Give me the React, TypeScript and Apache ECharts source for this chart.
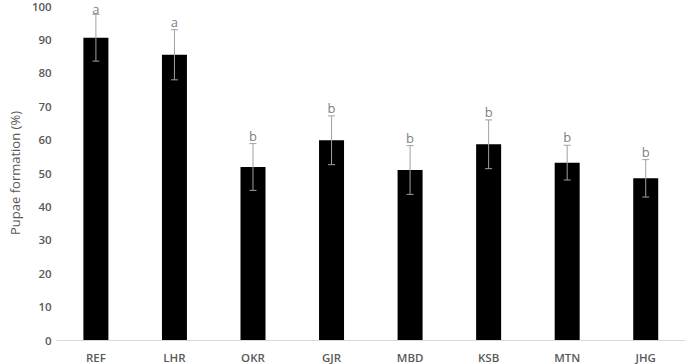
import React, { useEffect, useRef } from "react";
import * as echarts from "echarts";

const categories = ["REF", "LHR", "OKR", "GJR", "MBD", "KSB", "MTN", "JHG"];
const means = [90.5, 85.4, 51.8, 59.8, 50.9, 58.6, 53.1, 48.4];
const errors = [7.0, 7.5, 7.0, 7.3, 7.3, 7.3, 5.2, 5.6];
const letters = ["a", "a", "b", "b", "b", "b", "b", "b"];
const yTicks = { min: 0, max: 100, interval: 10 };

export default function App() {
  const ref = useRef<HTMLDivElement>(null);
  useEffect(() => {
    if (!ref.current) return;
    const chart = echarts.init(ref.current, undefined, { renderer: "svg" });
    const errData = categories.map((c, i) => [i, means[i] - errors[i], means[i] + errors[i]]);
    chart.setOption({
      animation: false,
      grid: { left: 45, right: 2, top: 6, bottom: 24 },
      xAxis: {
        type: "category",
        data: categories,
        axisLine: { lineStyle: { color: "#d9d9d9" } },
        axisTick: { show: false },
        axisLabel: { color: "#595959", fontFamily: "Open Sans", fontWeight: 600, fontSize: 11.5, margin: 11 },
      },
      yAxis: {
        type: "value",
        min: yTicks.min,
        max: yTicks.max,
        interval: yTicks.interval,
        name: "Pupae formation (%)",
        nameLocation: "middle",
        nameGap: 30,
        nameTextStyle: { color: "#595959", fontFamily: "Open Sans", fontWeight: "normal", fontSize: 13 },
        axisLine: { show: false },
        axisTick: { show: false },
        splitLine: { show: false },
        axisLabel: { color: "#595959", fontFamily: "Open Sans", fontWeight: 600, fontSize: 11.5, margin: 5 },
      },
      series: [
        {
          type: "bar",
          data: means,
          barWidth: 25,
          itemStyle: { color: "#000000" },
        },
        {
          type: "custom",
          data: errData,
          z: 10,
          renderItem: (params: any, api: any) => {
            const x = api.value(0);
            const lo = api.coord([x, api.value(1)]);
            const hi = api.coord([x, api.value(2)]);
            const cw = 3.5;
            const style = { stroke: "#a0a0a0", lineWidth: 1 };
            return {
              type: "group",
              children: [
                { type: "line", shape: { x1: hi[0], y1: hi[1], x2: lo[0], y2: lo[1] }, style },
                { type: "line", shape: { x1: hi[0] - cw, y1: hi[1], x2: hi[0] + cw, y2: hi[1] }, style },
                { type: "line", shape: { x1: lo[0] - cw, y1: lo[1], x2: lo[0] + cw, y2: lo[1] }, style },
                {
                  type: "text",
                  x: hi[0],
                  y: Math.max(hi[1] - 8, 8.5),
                  style: {
                    text: letters[params.dataIndex],
                    fill: "#7f7f7f",
                    fontFamily: "Open Sans",
                    fontSize: 13,
                    lineHeight: 13,
                    align: "center",
                    verticalAlign: "middle",
                  },
                },
              ],
            };
          },
        },
      ],
    });
    return () => chart.dispose();
  }, []);
  return <div ref={ref} style={{ width: 687, height: 364, position: "absolute", left: 0, top: 0, background: "#fff" }} />;
}
